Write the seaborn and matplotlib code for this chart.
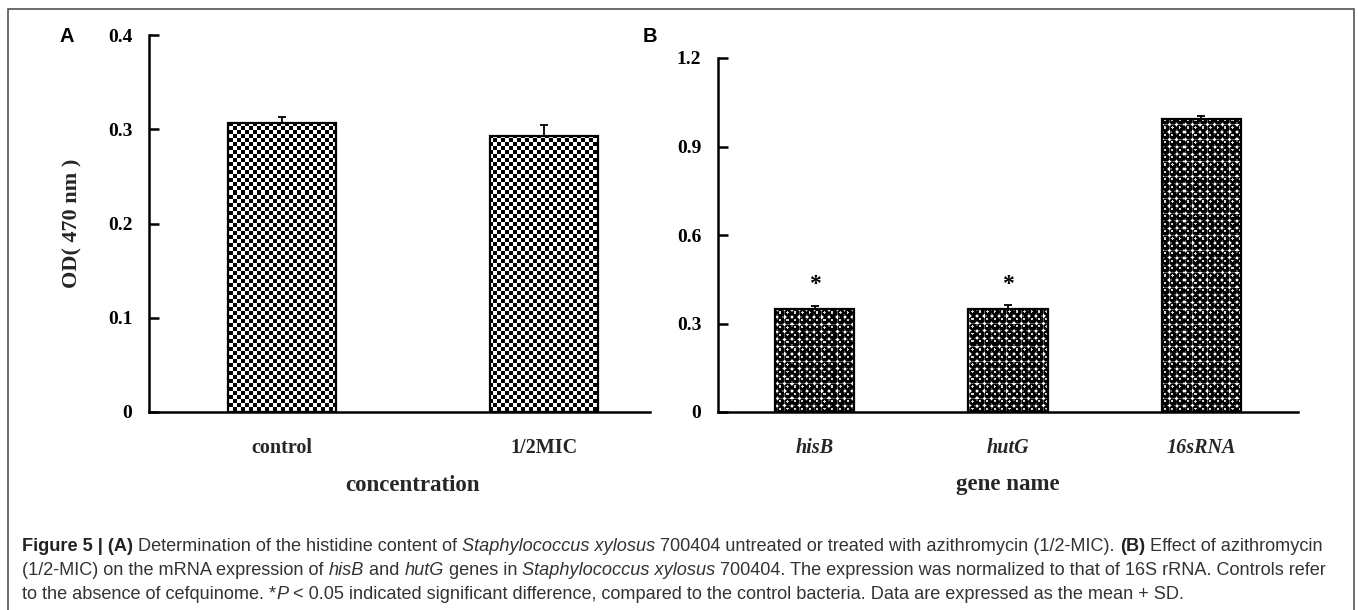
import numpy as np
import pandas as pd
import matplotlib
matplotlib.use("Agg")
import matplotlib.pyplot as plt
import seaborn as sns
from matplotlib.patches import Rectangle

# ---------------- data ----------------
conc_labels = ["control", "1/2MIC"]
od_values = [0.307, 0.293]
od_sd = [0.006, 0.011]

gene_labels = ["hisB", "hutG", "16sRNA"]
expr_values = [0.349, 0.350, 0.993]
expr_sd = [0.012, 0.012, 0.010]
significance = ["*", "*", ""]

a_yticks = [0, 0.1, 0.2, 0.3, 0.4]
b_yticks = [0, 0.3, 0.6, 0.9, 1.2]

# ---------------- style ----------------
sns.set_theme(style="white")
plt.rcParams["font.family"] = ["Liberation Serif", "DejaVu Serif"]
SERIF = ["Liberation Serif", "DejaVu Serif"]
SANS = ["Liberation Sans", "DejaVu Sans"]

W, H = 1358, 610
fig = plt.figure(figsize=(W / 100, H / 100), dpi=100)
fig.patch.set_facecolor("white")


def px_axes(left, top, right, bottom):
    return fig.add_axes([left / W, 1 - bottom / H, (right - left) / W, (bottom - top) / H])


axA = px_axes(149, 35, 650, 412)
axB = px_axes(718, 58, 1298, 412)


def checker_texture(h, w, cell=4):
    yy, xx = np.mgrid[0:h, 0:w]
    return (((yy // cell) + (xx // cell)) % 2).astype(float)


def sphere_texture(h, w, step=7.4, r=3.5):
    yy, xx = np.mgrid[0:h, 0:w].astype(float)
    yy += 0.5
    xx += 0.5
    cx = (np.floor(xx / step) + 0.5) * step
    cy = (np.floor(yy / step) + 0.5) * step
    dx = xx - cx
    dy = yy - cy
    d = np.hypot(dx, dy)
    img = np.ones_like(d)
    inside = d < r
    img[inside] = 0.0
    hl = np.hypot(dx + 0.8, dy + 0.8) < 1.2
    img[hl & inside] = 0.85
    ring = (d >= r) & (d < r + 0.7)
    img[ring] = 0.35
    return img


def style_axes(ax, ylim, yticks, xlim):
    ax.set_ylim(*ylim)
    ax.set_xlim(*xlim)
    ax.set_yticks(yticks)
    ax.set_yticklabels(["0" if v == 0 else f"{v:.1f}" for v in yticks],
                       fontsize=14, fontweight="bold", family=SERIF)
    for s in ["top", "right"]:
        ax.spines[s].set_visible(False)
    for s in ["left", "bottom"]:
        ax.spines[s].set_visible(True)
        ax.spines[s].set_color("black")
        ax.spines[s].set_linewidth(1.8)
    ax.tick_params(axis="y", direction="in", length=7, width=1.8, pad=12, left=True, colors="black")
    ax.tick_params(axis="x", length=0, pad=19)
    ax.set_facecolor("white")
    ax.grid(False)


def draw_panel(ax, cats, vals, sds, texture_fn, ylim, xlim, yticks):
    df = pd.DataFrame({"cat": cats, "val": vals})
    sns.barplot(data=df, x="cat", y="val", ax=ax, order=cats, width=0.41,
                color="white", edgecolor="black", linewidth=1.6, saturation=1)
    style_axes(ax, ylim, yticks, xlim)
    bbox = ax.get_position()
    wpx = int(round(bbox.width * W))
    hpx = int(round(bbox.height * H))
    tex = texture_fn(hpx, wpx)
    for p in ax.patches:
        p.set_facecolor("none")
        p.set_zorder(3)
        im = ax.imshow(tex, cmap="gray", vmin=0, vmax=1, interpolation="nearest",
                       extent=(xlim[0], xlim[1], ylim[0], ylim[1]), origin="upper",
                       aspect="auto", zorder=2)
        im.set_clip_path(p)
    ax.set_xlim(*xlim)
    ax.set_ylim(*ylim)
    centers = [p.get_x() + p.get_width() / 2 for p in ax.patches]
    ax.errorbar(centers, vals, yerr=[np.zeros(len(vals)), sds], fmt="none",
                ecolor="black", elinewidth=1.3, capsize=3.2, capthick=1.3, zorder=4)
    return centers


cA = draw_panel(axA, conc_labels, od_values, od_sd, checker_texture,
                (0, 0.4), (-0.508, 1.405), a_yticks)
cB = draw_panel(axB, gene_labels, expr_values, expr_sd, sphere_texture,
                (0, 1.2), (-0.5, 2.5), b_yticks)

axA.set_xticks(range(len(conc_labels)))
axA.set_xticklabels(conc_labels, fontsize=14.5, fontweight="bold", family=SERIF)
axB.set_xticks(range(len(gene_labels)))
axB.set_xticklabels(gene_labels, fontsize=14.5, fontweight="bold", style="italic", family=SERIF)

axA.set_xlabel("concentration", fontsize=16.5, fontweight="bold", family=SERIF, labelpad=11)
axA.xaxis.set_label_coords(0.525, -0.166)
axB.set_xlabel("gene name", fontsize=16.5, fontweight="bold", family=SERIF, labelpad=11)
axA.set_ylabel("OD( 470 nm )", fontsize=16, fontweight="bold", family=SERIF, labelpad=18)
axB.set_ylabel("")

for x, v, s, sig in zip(cB, expr_values, expr_sd, significance):
    if sig:
        axB.text(x, v + s + 0.07, sig, ha="center", va="center", fontsize=17,
                 fontweight="bold", family=SERIF, color="black", zorder=5)

# panel letters
fig.text(67 / W, 1 - 37 / H, "A", fontsize=14.5, fontweight="bold", family=SANS,
         ha="center", va="center", color="black")
fig.text(650 / W, 1 - 36 / H, "B", fontsize=14.5, fontweight="bold", family=SANS,
         ha="center", va="center", color="black")

# frame
fig.patches.append(Rectangle((8 / W, -0.05), (1354 - 8) / W, 1.05 - 9 / H,
                             transform=fig.transFigure, fill=False,
                             edgecolor="#444444", linewidth=1.1, zorder=0))

# caption
CAP_COLOR = "#333333"
line1 = [("Figure 5 | (A)", "bold"), (" Determination of the histidine content of ", "normal"),
         ("Staphylococcus xylosus", "italic"),
         (" 700404 untreated or treated with azithromycin (1/2-MIC). ", "normal"),
         ("(B)", "bold"), (" Effect of azithromycin", "normal")]
line2 = [("(1/2-MIC) on the mRNA expression of ", "normal"), ("hisB", "italic"), (" and ", "normal"),
         ("hutG", "italic"), (" genes in ", "normal"), ("Staphylococcus xylosus", "italic"),
         (" 700404. The expression was normalized to that of 16S rRNA. Controls refer", "normal")]
line3 = [("to the absence of cefquinome. *", "normal"), ("P", "italic"),
         (" < 0.05 indicated significant difference, compared to the control bacteria. "
          "Data are expressed as the mean + SD.", "normal")]

renderer = fig.canvas.get_renderer()


def draw_line(segs, x0, y_base, size):
    x = x0
    texts = []
    for s, kind in segs:
        kw = dict(fontsize=size, family=SANS, color=CAP_COLOR, ha="left", va="baseline")
        if kind == "bold":
            kw["fontweight"] = "bold"
            kw["color"] = "#222222"
        elif kind == "italic":
            kw["style"] = "italic"
        t = fig.text(x / W, 1 - y_base / H, s, **kw)
        bb = t.get_window_extent(renderer=renderer)
        x = bb.x1
        texts.append(t)
    return texts, x


size = 13.05
draw_line(line1, 22, 551, size)
draw_line(line2, 22, 575, size)
draw_line(line3, 22, 599, size)

fig.savefig("out.png", dpi=100, facecolor="white")
